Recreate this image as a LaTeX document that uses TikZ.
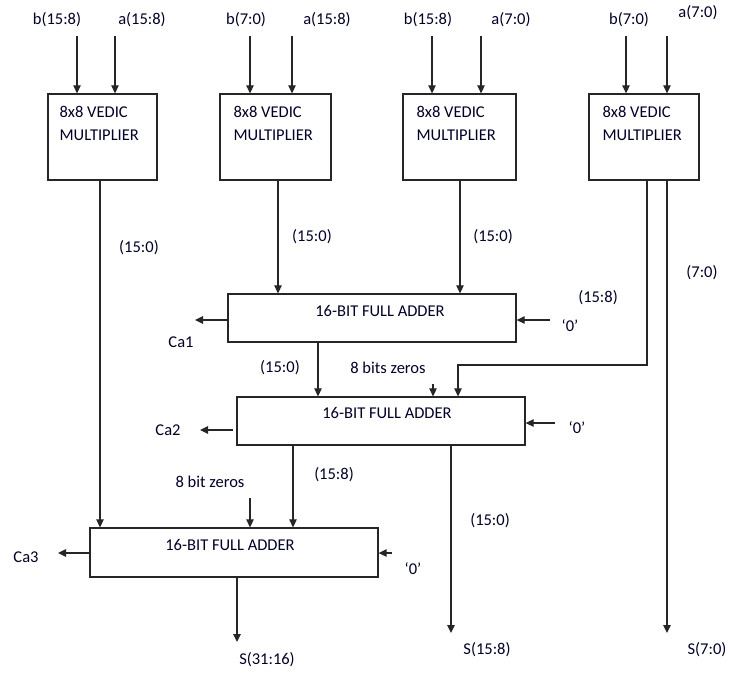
\documentclass[tikz,border=0pt]{standalone}
\usepackage{fontspec}
\setmainfont{Carlito}
\usetikzlibrary{arrows.meta}
\begin{document}
\begin{tikzpicture}[x=1pt,y=-1pt,
  line width=1.2pt,
  box/.style={draw=black!85, rectangle, line width=1.3pt, inner sep=0pt},
  lbl/.style={font=\fontsize{16.5}{19}\selectfont, inner sep=0pt, text=black!85!blue},
  arr/.style={draw=black!85, -{Triangle[length=8pt,width=7.5pt]}}]
\useasboundingbox (0,0) rectangle (730,673);

% ---- multipliers ----
\node[box, minimum width=109pt, minimum height=86pt] (m1) at (102.5,137) {};
\node[box, minimum width=111pt, minimum height=86pt] (m2) at (275.5,137) {};
\node[box, minimum width=113pt, minimum height=86pt] (m3) at (459.5,137) {};
\node[box, minimum width=110pt, minimum height=86pt] (m4) at (644,137) {};
\foreach \n/\x in {m1/59, m2/233, m3/416, m4/602}{
  \node[lbl, anchor=base west] (\n t1) at (\x,117) {8x8 VEDIC};
  \node[lbl, anchor=base west] (\n t2) at (\x,140) {MULTIPLIER};
}

% ---- full adders ----
\node[box, minimum width=288pt, minimum height=48pt] (fa1) at (372,318) {};
\node[box, minimum width=288pt, minimum height=48pt] (fa2) at (381,421) {};
\node[box, minimum width=288pt, minimum height=49pt] (fa3) at (234,552.5) {};
\node[lbl] (fa1t) at (380,311) {16-BIT FULL ADDER};
\node[lbl] (fa2t) at (387,413) {16-BIT FULL ADDER};
\node[lbl] (fa3t) at (230,545) {16-BIT FULL ADDER};

% ---- input labels ----
\node[lbl] (lb1) at (57,20) {b(15:8)};
\node[lbl] (la1) at (142,20) {a(15:8)};
\node[lbl] (lb2) at (246,20) {b(7:0)};
\node[lbl] (la2) at (327,20) {a(15:8)};
\node[lbl] (lb3) at (428,20) {b(15:8)};
\node[lbl] (la3) at (511,20) {a(7:0)};
\node[lbl] (lb4) at (629,20) {b(7:0)};
\node[lbl] (la4) at (698,13) {a(7:0)};

% input arrow start points
\foreach \n/\x in {ib1/77, ia1/115, ib2/250, ia2/292, ib3/432, ia3/481, ib4/626, ia4/667}{
  \coordinate (\n) at (\x,36);
}
\draw[arr] (ib1) -- (ib1 |- m1.north);
\draw[arr] (ia1) -- (ia1 |- m1.north);
\draw[arr] (ib2) -- (ib2 |- m2.north);
\draw[arr] (ia2) -- (ia2 |- m2.north);
\draw[arr] (ib3) -- (ib3 |- m3.north);
\draw[arr] (ia3) -- (ia3 |- m3.north);
\draw[arr] (ib4) -- (ib4 |- m4.north);
\draw[arr] (ia4) -- (ia4 |- m4.north);

% vertical guide coordinates
\coordinate (x1) at (100,0);
\coordinate (x2) at (278,0);
\coordinate (x3) at (460,0);
\coordinate (x4) at (647,0);
\coordinate (x5) at (667,0);
\coordinate (xf1) at (318,0);
\coordinate (xz1) at (433,0);
\coordinate (xm) at (458,0);
\coordinate (xf2a) at (293,0);
\coordinate (xf2b) at (451,0);
\coordinate (xz2) at (250,0);
\coordinate (xf3) at (237,0);

% multiplier outputs
\draw[arr] (x1 |- m1.south) -- (x1 |- fa3.north);
\draw[arr] (x2 |- m2.south) -- (x2 |- fa1.north);
\draw[arr] (x3 |- m3.south) -- (x3 |- fa1.north);
\coordinate (bend) at (647,365);
\draw[arr] (x4 |- m4.south) -- (bend) -- (xm |- bend) -- (xm |- fa2.north);
\coordinate (s70) at (667,633);
\draw[arr] (x5 |- m4.south) -- (s70);

% FA1
\coordinate (ca1) at (195,320);
\draw[arr] (fa1.west |- ca1) -- (ca1);
\coordinate (z1) at (550,320);
\draw[arr] (z1) -- (fa1.east |- z1);
\draw[arr] (xf1 |- fa1.south) -- (xf1 |- fa2.north);
\coordinate (zz1) at (433,384);
\draw[arr] (zz1) -- (xz1 |- fa2.north);

% FA2
\coordinate (ca2s) at (233,430);
\coordinate (ca2) at (200,430);
\draw[arr] (ca2s) -- (ca2);
\coordinate (z2) at (555,423);
\draw[arr] (z2) -- (fa2.east |- z2);
\draw[arr] (xf2a |- fa2.south) -- (xf2a |- fa3.north);
\coordinate (s158) at (451,633);
\draw[arr] (xf2b |- fa2.south) -- (s158);
\coordinate (zz2) at (250,498);
\draw[arr] (zz2) -- (xz2 |- fa3.north);

% FA3
\coordinate (ca3) at (58,553);
\draw[arr] (fa3.west |- ca3) -- (ca3);
\coordinate (z3) at (392,553);
\draw[arr] (z3) -- (fa3.east |- z3);
\coordinate (s3116) at (237,642);
\draw[arr] (xf3 |- fa3.south) -- (s3116);

% ---- labels ----
\node[lbl] (l1) at (139,248) {(15:0)};
\node[lbl] (l2) at (312,237) {(15:0)};
\node[lbl] (l3) at (493,237) {(15:0)};
\node[lbl] (l4) at (702,273) {(7:0)};
\node[lbl] (l5) at (598,298) {(15:8)};
\node[lbl] (l6) at (570,326) {‘0’};
\node[lbl] (l7) at (577,428) {‘0’};
\node[lbl] (l8) at (413,569) {‘0’};
\node[lbl] (c1) at (181,342) {Ca1};
\node[lbl] (c2) at (168,430) {Ca2};
\node[lbl] (c3) at (26,557) {Ca3};
\node[lbl] (l9) at (280,368) {(15:0)};
\node[lbl] (l10) at (388,368) {8 bits zeros};
\node[lbl] (l11) at (334,475) {(15:8)};
\node[lbl] (l12) at (210,482) {8 bit zeros};
\node[lbl] (l13) at (490,521) {(15:0)};
\node[lbl] (o1) at (267,660) {S(31:16)};
\node[lbl] (o2) at (487,650) {S(15:8)};
\node[lbl] (o3) at (707,650) {S(7:0)};
\end{tikzpicture}
\end{document}
